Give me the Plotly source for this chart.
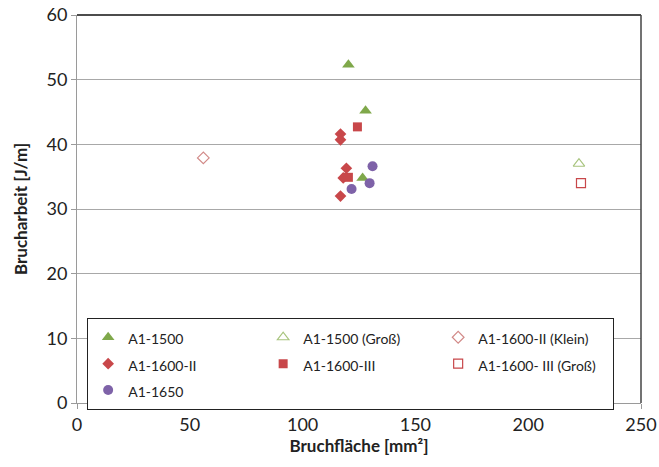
import plotly.graph_objects as go

# Data
a1500_x = [120.3, 127.9, 126.6]
a1500_y = [52.3, 45.2, 34.8]
a1500g_x = [222.5]
a1500g_y = [37.0]
a1600k_x = [56.0]
a1600k_y = [37.9]
a1600ii_x = [116.8, 116.8, 119.4, 118.0, 116.8]
a1600ii_y = [41.6, 40.7, 36.3, 34.8, 32.0]
a1600iii_x = [124.3, 120.3]
a1600iii_y = [42.7, 34.9]
a1600iiig_x = [223.4]
a1600iiig_y = [34.0]
a1650_x = [131.0, 121.7, 129.7]
a1650_y = [36.6, 33.1, 34.0]

x_ticks = [0, 50, 100, 150, 200, 250]
y_ticks = [0, 10, 20, 30, 40, 50, 60]

GREEN = "#7FA84A"
GREEN_L = "#A8C47E"
RED = "#C8474A"
RED_L = "#D28A88"
PURPLE = "#7E62A8"

series = [
    ("A1-1500", a1500_x, a1500_y, dict(symbol="triangle-up", size=11, color=GREEN)),
    ("A1-1500 (Groß)", a1500g_x, a1500g_y, dict(symbol="triangle-up-open", size=10, color=GREEN_L, line=dict(width=1.2, color=GREEN_L))),
    ("A1-1600-II (Klein)", a1600k_x, a1600k_y, dict(symbol="diamond-open", size=9, color=RED_L, line=dict(width=1.2, color=RED_L))),
    ("A1-1600-II", a1600ii_x, a1600ii_y, dict(symbol="diamond", size=9, color=RED)),
    ("A1-1600-III", a1600iii_x, a1600iii_y, dict(symbol="square", size=9, color=RED)),
    ("A1-1600- III (Groß)", a1600iiig_x, a1600iiig_y, dict(symbol="square-open", size=9, color=RED, line=dict(width=1.2, color=RED))),
    ("A1-1650", a1650_x, a1650_y, dict(symbol="circle", size=10, color=PURPLE)),
]

fig = go.Figure()
for name, xs, ys, mk in series:
    fig.add_trace(go.Scatter(x=xs, y=ys, mode="markers",
                             name='<span style="font-size:14px">' + name + '</span>',
                             marker=mk))

FONT = "Lato"
fig.update_layout(
    width=659, height=467,
    margin=dict(l=77, r=18, t=15, b=64),
    paper_bgcolor="white", plot_bgcolor="white",
    font=dict(family=FONT, size=18, color="#222"),
    showlegend=True,
    legend=dict(
        orientation="h", x=0.018, y=0.219, xanchor="left", yanchor="top",
        bgcolor="white", bordercolor="#222", borderwidth=1,
        font=dict(family=FONT, size=18, color="#222"),
        entrywidth=130, entrywidthmode="pixels", tracegroupgap=0,
        itemwidth=30,
    ),
    xaxis=dict(
        range=[0, 250], tickvals=x_ticks, showgrid=False, zeroline=False, automargin=False,
        showline=True, linecolor="#9a9a9a", linewidth=1,
        ticks="outside", ticklen=5, tickcolor="#9a9a9a",
        title=dict(text="<b>Bruchfläche [mm²]</b>", font=dict(family=FONT, size=17), standoff=5),
    ),
    yaxis=dict(
        range=[0, 60], tickvals=y_ticks, showgrid=True, gridcolor="#a8a8a8", gridwidth=1,
        zeroline=False, automargin=False, showline=True, linecolor="#9a9a9a", linewidth=1,
        ticks="outside", ticklen=5, tickcolor="#9a9a9a",
        title=dict(text="<b>Brucharbeit [J/m]</b>", font=dict(family=FONT, size=17), standoff=14),
    ),
)
fig.add_shape(type="line", xref="paper", yref="paper", x0=0, x1=1, y0=1, y1=1,
              line=dict(color="#111", width=1.5))
fig.add_shape(type="line", xref="paper", yref="paper", x0=1, x1=1, y0=0, y1=1,
              line=dict(color="#444", width=1.5))

fig.write_html("out.html", config={"displayModeBar": False},
               post_script="document.body.style.margin='0';document.body.style.overflow='hidden';")
